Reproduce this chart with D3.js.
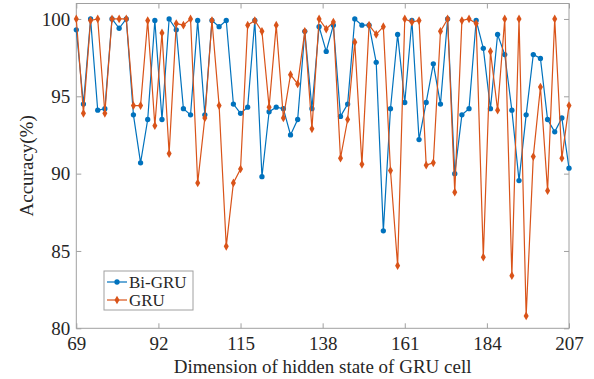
<!DOCTYPE html>
<html>
<head>
<meta charset="utf-8">
<script src="https://cdn.jsdelivr.net/npm/d3@7"></script>
<style>
  body { margin: 0; background: #fff; }
  svg text { font-family: "Liberation Serif", "DejaVu Serif", serif; fill: #262626; }
</style>
</head>
<body>
<div id="chart"></div>
<script>
// hidden state dimensions, every second value from 69 to 207
const dims = d3.range(69, 208, 2);

const biGru = [
  99.3, 94.5, 100, 94.1, 94.2, 100, 99.4, 100, 93.8, 90.7,
  93.5, 99.9, 93.5, 100, 99.3, 94.2, 93.8, 99.9, 93.8, 99.9,
  99.5, 99.9, 94.5, 93.9, 94.3, 99.9, 89.8, 94.0, 94.3, 94.2,
  92.5, 93.5, 99.2, 94.2, 99.5, 97.9, 99.6, 93.7, 94.5, 100,
  99.6, 99.6, 97.2, 86.3, 94.2, 99.0, 94.6, 99.9, 92.2, 94.6,
  97.1, 94.5, 100, 90.0, 93.8, 94.2, 99.9, 98.1, 94.2, 99.0,
  97.7, 94.1, 89.55, 93.8, 97.7, 97.45, 93.5, 92.7, 93.6, 90.35
];

const gru = [
  100, 93.9, 99.9, 100, 93.9, 100, 100, 100, 94.4, 94.4,
  99.9, 93.1, 99.1, 91.3, 99.7, 99.6, 100, 89.4, 93.6, 99.9,
  94.4, 85.3, 89.4, 90.3, 99.6, 99.9, 99.2, 94.3, 99.6, 93.6,
  96.4, 95.8, 99.2, 92.9, 100, 99.35, 99.8, 91.0, 93.5, 98.5,
  90.6, 99.6, 99.0, 99.5, 90.2, 84.05, 100, 99.8, 99.9, 90.55,
  90.7, 99.2, 100, 88.8, 99.9, 100, 99.7, 84.6, 97.9, 94.1,
  100, 83.4, 100, 80.8, 91.1, 95.6, 88.9, 100, 91.0, 94.4
];

const xTicks = [69, 92, 115, 138, 161, 184, 207];
const yTicks = [80, 85, 90, 95, 100];

const blue = '#0072BD';
const orange = '#D95319';
const frameColor = '#a0a0a0';
const serif = '"Liberation Serif", "DejaVu Serif", serif';

const W = 594, H = 379;
const margin = { top: 3.5, right: 25, bottom: 50.7, left: 76.3 };
const width = W - margin.left - margin.right;
const height = H - margin.top - margin.bottom;

const svg = d3.select('#chart').append('svg')
  .attr('width', W)
  .attr('height', H);

const g = svg.append('g')
  .attr('transform', `translate(${margin.left},${margin.top})`);

const x = d3.scaleLinear().domain([69, 207]).range([0, width]);
const y = d3.scaleLinear().domain([80, 101]).range([height, 0]);

function styleAxis(sel) {
  sel.attr('font-family', serif).attr('font-size', 19);
  sel.select('.domain').remove();
  sel.selectAll('.tick line').attr('stroke', frameColor);
  sel.selectAll('.tick text')
    .style('font-family', serif)
    .style('font-size', '19px')
    .attr('fill', '#262626');
}

// ticks point inward on all four sides
g.append('g')
  .attr('transform', `translate(0,${height})`)
  .call(d3.axisBottom(x).tickValues(xTicks).tickSizeInner(-5).tickSizeOuter(0).tickPadding(8))
  .call(styleAxis);

g.append('g')
  .call(d3.axisLeft(y).tickValues(yTicks).tickSizeInner(-5).tickSizeOuter(0).tickPadding(6))
  .call(styleAxis);

g.append('g')
  .call(d3.axisTop(x).tickValues(xTicks).tickSizeInner(-5).tickSizeOuter(0).tickFormat(''))
  .call(styleAxis);

g.append('g')
  .attr('transform', `translate(${width},0)`)
  .call(d3.axisRight(y).tickValues(yTicks).tickSizeInner(-5).tickSizeOuter(0).tickFormat(''))
  .call(styleAxis);

g.append('rect')
  .attr('width', width)
  .attr('height', height)
  .attr('fill', 'none')
  .attr('stroke', frameColor)
  .attr('stroke-width', 1);

const series = [
  { name: 'Bi-GRU', values: biGru, color: blue, symbol: d3.symbolCircle, size: 22 },
  { name: 'GRU', values: gru, color: orange, symbol: d3.symbolDiamond, size: 22 }
];

const line = d3.line()
  .x(d => x(d[0]))
  .y(d => y(d[1]));

series.forEach(s => {
  const pts = dims.map((d, i) => [d, s.values[i]]);
  g.append('path')
    .datum(pts)
    .attr('fill', 'none')
    .attr('stroke', s.color)
    .attr('stroke-width', 1.2)
    .attr('d', line);

  g.selectAll(null)
    .data(pts)
    .enter().append('path')
    .attr('transform', d => `translate(${x(d[0])},${y(d[1])})`)
    .attr('d', d3.symbol().type(s.symbol).size(s.size))
    .attr('fill', s.color);
});

// legend
const legend = svg.append('g').attr('transform', 'translate(104,271)');
legend.append('rect')
  .attr('width', 89)
  .attr('height', 39)
  .attr('fill', '#fff')
  .attr('stroke', frameColor);

series.forEach((s, i) => {
  const ly = 11 + i * 18;
  legend.append('line')
    .attr('x1', 3).attr('x2', 23)
    .attr('y1', ly).attr('y2', ly)
    .attr('stroke', s.color)
    .attr('stroke-width', 1.2);
  legend.append('path')
    .attr('transform', `translate(13,${ly})`)
    .attr('d', d3.symbol().type(s.symbol).size(s.size))
    .attr('fill', s.color);
  legend.append('text')
    .attr('x', 25)
    .attr('y', ly)
    .attr('dy', '0.33em')
    .style('font-size', '17px')
    .text(s.name);
});

// axis titles
svg.append('text')
  .attr('transform', `translate(26,${margin.top + height / 2}) rotate(-90)`)
  .attr('text-anchor', 'middle')
  .attr('dy', '0.35em')
  .style('font-size', '19px')
  .text('Accuracy(%)');

svg.append('text')
  .attr('x', margin.left + width / 2)
  .attr('y', 373)
  .attr('text-anchor', 'middle')
  .style('font-size', '19px')
  .text('Dimension of hidden state of GRU cell');
</script>
</body>
</html>
